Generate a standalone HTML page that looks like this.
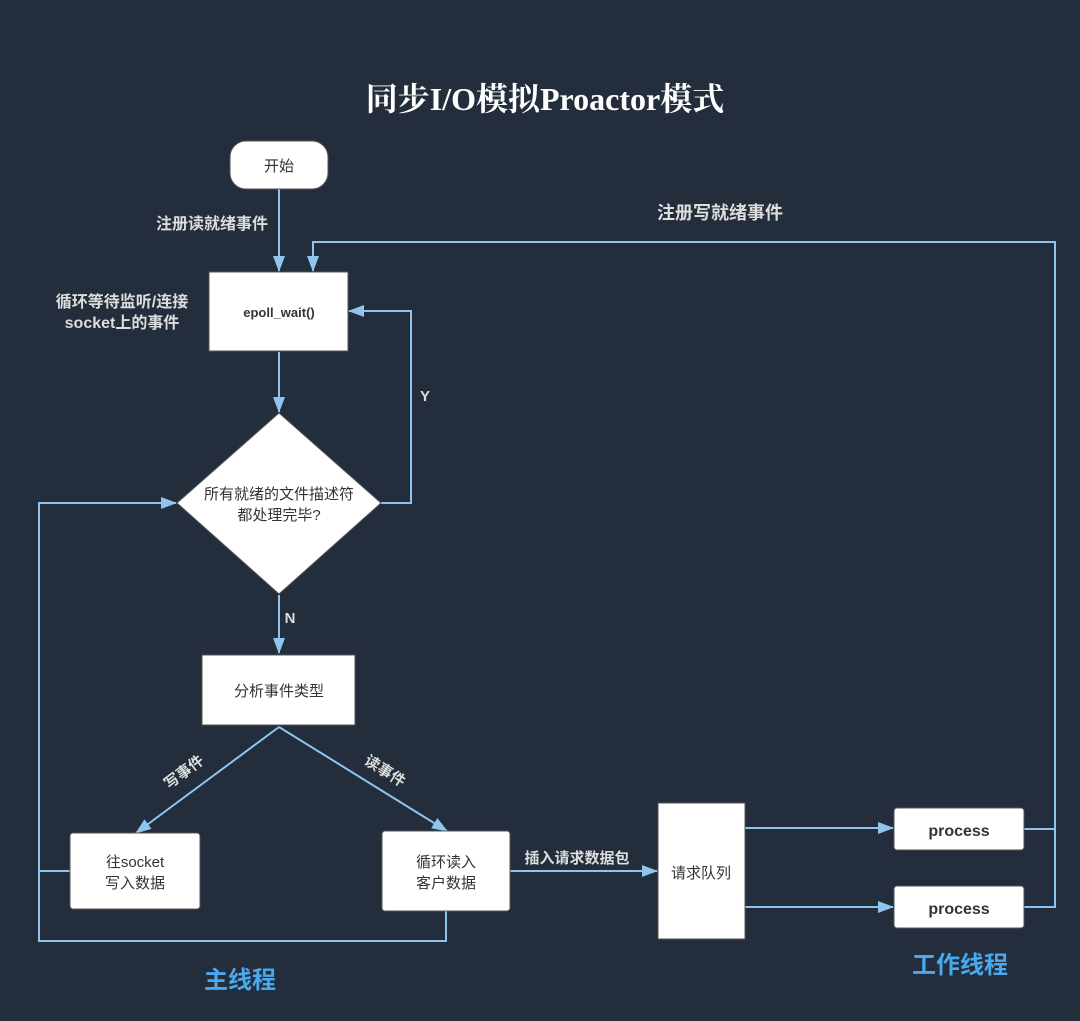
<!DOCTYPE html>
<html><head><meta charset="utf-8"><style>
html,body{margin:0;padding:0;background:#232d3b;}
svg{display:block;}
text{font-family:"Liberation Sans","Noto Sans CJK SC",sans-serif;}
</style></head><body>
<svg width="1080" height="1021" viewBox="0 0 1080 1021" xmlns="http://www.w3.org/2000/svg">
<defs>
<marker id="a" markerWidth="16" markerHeight="14" refX="15" refY="6" orient="auto" markerUnits="userSpaceOnUse">
<path d="M0,0 L16,6 L0,12 Z" fill="#8ec5ef"/></marker>
</defs>
<rect width="1080" height="1021" fill="#232d3b"/>
<text x="545" y="110" text-anchor="middle" fill="#fff" font-size="32" font-weight="bold" style="font-family:'Liberation Serif','Noto Serif CJK SC',serif">同步I/O模拟Proactor模式</text>

<g stroke="#8ec5ef" stroke-width="2" fill="none">
<line x1="279" y1="189" x2="279" y2="271" marker-end="url(#a)"/>
<line x1="279" y1="352" x2="279" y2="412" marker-end="url(#a)"/>
<polyline points="381,503 411,503 411,311 349,311" marker-end="url(#a)"/>
<line x1="279" y1="595" x2="279" y2="653" marker-end="url(#a)"/>
<line x1="279" y1="727" x2="136" y2="833" marker-end="url(#a)"/>
<line x1="279" y1="727" x2="447" y2="831" marker-end="url(#a)"/>
<polyline points="446,911 446,941 39,941 39,503 176,503" marker-end="url(#a)"/>
<line x1="70" y1="871" x2="39" y2="871"/>
<line x1="510" y1="871" x2="657" y2="871" marker-end="url(#a)"/>
<line x1="745" y1="828" x2="893" y2="828" marker-end="url(#a)"/>
<line x1="745" y1="907" x2="893" y2="907" marker-end="url(#a)"/>
<polyline points="1024,829 1055,829"/>
<polyline points="1024,907 1055,907 1055,242 313,242 313,271" marker-end="url(#a)"/>
</g>

<g fill="#fff" stroke="#555" stroke-width="1">
<rect x="230" y="141" width="98" height="48" rx="16"/>
<rect x="209" y="272" width="139" height="79"/>
<polygon points="279,413 381,503 279,594 177,503"/>
<rect x="202" y="655" width="153" height="70"/>
<rect x="70" y="833" width="130" height="76" rx="3"/>
<rect x="382" y="831" width="128" height="80" rx="3"/>
<rect x="658" y="803" width="87" height="136"/>
<rect x="894" y="808" width="130" height="42" rx="3"/>
<rect x="894" y="886" width="130" height="42" rx="3"/>
</g>

<g fill="#333" font-size="15" text-anchor="middle">
<text x="279" y="171">开始</text>
<text x="279" y="317" font-size="13" font-weight="bold">epoll_wait()</text>
<text x="279" y="499">所有就绪的文件描述符</text>
<text x="279" y="520">都处理完毕?</text>
<text x="279" y="696">分析事件类型</text>
<text x="135" y="867">往socket</text>
<text x="135" y="888">写入数据</text>
<text x="446" y="867">循环读入</text>
<text x="446" y="888">客户数据</text>
<text x="701" y="878">请求队列</text>
<text x="959" y="836" font-weight="bold" font-size="16">process</text>
<text x="959" y="914" font-weight="bold" font-size="16">process</text>
</g>

<g fill="#ddd" font-size="16" font-weight="bold">
<text x="268" y="229" text-anchor="end">注册读就绪事件</text>
<text x="122" y="307" text-anchor="middle">循环等待监听/连接</text>
<text x="122" y="328" text-anchor="middle">socket上的事件</text>
<text x="425" y="401" text-anchor="middle" font-size="15">Y</text>
<text x="290" y="623" text-anchor="middle" font-size="15">N</text>
<text x="577" y="863" text-anchor="middle" font-size="15">插入请求数据包</text>
<text x="720" y="219" text-anchor="middle" font-size="18">注册写就绪事件</text>
<text x="184" y="777" text-anchor="middle" font-size="15" transform="rotate(-37 184 772)">写事件</text>
<text x="385" y="776" text-anchor="middle" font-size="15" transform="rotate(32 385 771)">读事件</text>
</g>
<text x="240" y="988" text-anchor="middle" fill="#4aa8ef" font-size="24" font-weight="bold">主线程</text>
<text x="960" y="973" text-anchor="middle" fill="#4aa8ef" font-size="24" font-weight="bold">工作线程</text>
</svg>
</body></html>
